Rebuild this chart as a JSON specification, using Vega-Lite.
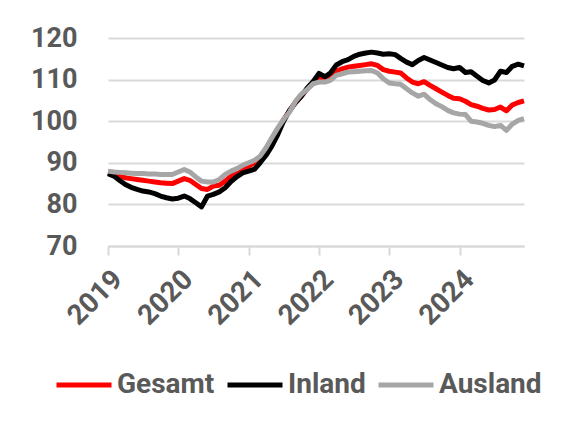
{
  "$schema": "https://vega.github.io/schema/vega-lite/v6.json",
  "width": 416,
  "height": 208,
  "autosize": {"type": "none"},
  "padding": {"left": 108, "top": 38, "right": 47, "bottom": 175},
  "background": "white",
  "config": {
    "view": {"stroke": null},
    "font": "Roboto"
  },
  "data": {
    "values": [
      {"date": "2019-01-01", "Gesamt": 87.6, "Inland": 87.4, "Ausland": 88.0},
      {"date": "2019-02-01", "Gesamt": 87.2, "Inland": 86.8, "Ausland": 87.8},
      {"date": "2019-03-01", "Gesamt": 86.8, "Inland": 85.8, "Ausland": 87.7},
      {"date": "2019-04-01", "Gesamt": 86.4, "Inland": 84.8, "Ausland": 87.6},
      {"date": "2019-05-01", "Gesamt": 86.2, "Inland": 84.1, "Ausland": 87.5},
      {"date": "2019-06-01", "Gesamt": 86.0, "Inland": 83.6, "Ausland": 87.4},
      {"date": "2019-07-01", "Gesamt": 85.8, "Inland": 83.2, "Ausland": 87.4},
      {"date": "2019-08-01", "Gesamt": 85.6, "Inland": 83.0, "Ausland": 87.3},
      {"date": "2019-09-01", "Gesamt": 85.4, "Inland": 82.6, "Ausland": 87.3},
      {"date": "2019-10-01", "Gesamt": 85.2, "Inland": 82.0, "Ausland": 87.2},
      {"date": "2019-11-01", "Gesamt": 85.1, "Inland": 81.6, "Ausland": 87.2},
      {"date": "2019-12-01", "Gesamt": 85.0, "Inland": 81.3, "Ausland": 87.2},
      {"date": "2020-01-01", "Gesamt": 85.6, "Inland": 81.5, "Ausland": 87.8},
      {"date": "2020-02-01", "Gesamt": 86.2, "Inland": 82.0, "Ausland": 88.4},
      {"date": "2020-03-01", "Gesamt": 85.8, "Inland": 81.4, "Ausland": 87.8},
      {"date": "2020-04-01", "Gesamt": 84.8, "Inland": 80.4, "Ausland": 86.6},
      {"date": "2020-05-01", "Gesamt": 83.8, "Inland": 79.4, "Ausland": 85.6},
      {"date": "2020-06-01", "Gesamt": 83.6, "Inland": 82.0, "Ausland": 85.4},
      {"date": "2020-07-01", "Gesamt": 84.4, "Inland": 82.4, "Ausland": 85.4},
      {"date": "2020-08-01", "Gesamt": 84.6, "Inland": 83.0, "Ausland": 86.0},
      {"date": "2020-09-01", "Gesamt": 85.6, "Inland": 84.0, "Ausland": 87.2},
      {"date": "2020-10-01", "Gesamt": 86.8, "Inland": 85.5, "Ausland": 88.0},
      {"date": "2020-11-01", "Gesamt": 87.6, "Inland": 86.7, "Ausland": 88.6},
      {"date": "2020-12-01", "Gesamt": 88.5, "Inland": 87.6, "Ausland": 89.4},
      {"date": "2021-01-01", "Gesamt": 89.2, "Inland": 88.0, "Ausland": 90.0},
      {"date": "2021-02-01", "Gesamt": 90.0, "Inland": 88.5, "Ausland": 90.6},
      {"date": "2021-03-01", "Gesamt": 91.2, "Inland": 90.0, "Ausland": 91.6},
      {"date": "2021-04-01", "Gesamt": 93.0, "Inland": 91.8, "Ausland": 93.6},
      {"date": "2021-05-01", "Gesamt": 95.2, "Inland": 94.0, "Ausland": 96.0},
      {"date": "2021-06-01", "Gesamt": 97.6, "Inland": 96.8, "Ausland": 98.4},
      {"date": "2021-07-01", "Gesamt": 100.4, "Inland": 100.0, "Ausland": 100.4},
      {"date": "2021-08-01", "Gesamt": 102.5, "Inland": 102.6, "Ausland": 102.2},
      {"date": "2021-09-01", "Gesamt": 104.5, "Inland": 104.5, "Ausland": 104.8},
      {"date": "2021-10-01", "Gesamt": 106.0, "Inland": 106.0, "Ausland": 106.5},
      {"date": "2021-11-01", "Gesamt": 107.8, "Inland": 108.0, "Ausland": 107.6},
      {"date": "2021-12-01", "Gesamt": 109.2, "Inland": 109.5, "Ausland": 109.0},
      {"date": "2022-01-01", "Gesamt": 110.2, "Inland": 111.5, "Ausland": 109.4},
      {"date": "2022-02-01", "Gesamt": 110.2, "Inland": 110.7, "Ausland": 109.4},
      {"date": "2022-03-01", "Gesamt": 110.8, "Inland": 111.6, "Ausland": 109.8},
      {"date": "2022-04-01", "Gesamt": 112.0, "Inland": 113.5, "Ausland": 111.0},
      {"date": "2022-05-01", "Gesamt": 112.6, "Inland": 114.3, "Ausland": 111.4},
      {"date": "2022-06-01", "Gesamt": 113.0, "Inland": 114.8, "Ausland": 111.8},
      {"date": "2022-07-01", "Gesamt": 113.2, "Inland": 115.6, "Ausland": 111.9},
      {"date": "2022-08-01", "Gesamt": 113.4, "Inland": 116.1, "Ausland": 112.0},
      {"date": "2022-09-01", "Gesamt": 113.6, "Inland": 116.4, "Ausland": 112.1},
      {"date": "2022-10-01", "Gesamt": 113.8, "Inland": 116.6, "Ausland": 112.2},
      {"date": "2022-11-01", "Gesamt": 113.4, "Inland": 116.4, "Ausland": 111.6},
      {"date": "2022-12-01", "Gesamt": 112.4, "Inland": 116.1, "Ausland": 110.2},
      {"date": "2023-01-01", "Gesamt": 112.0, "Inland": 116.2, "Ausland": 109.2},
      {"date": "2023-02-01", "Gesamt": 111.8, "Inland": 116.0, "Ausland": 109.0},
      {"date": "2023-03-01", "Gesamt": 111.6, "Inland": 115.1, "Ausland": 108.9},
      {"date": "2023-04-01", "Gesamt": 110.4, "Inland": 114.2, "Ausland": 107.8},
      {"date": "2023-05-01", "Gesamt": 109.4, "Inland": 113.6, "Ausland": 106.8},
      {"date": "2023-06-01", "Gesamt": 109.0, "Inland": 114.6, "Ausland": 106.0},
      {"date": "2023-07-01", "Gesamt": 109.5, "Inland": 115.3, "Ausland": 106.5},
      {"date": "2023-08-01", "Gesamt": 108.6, "Inland": 114.7, "Ausland": 105.2},
      {"date": "2023-09-01", "Gesamt": 107.8, "Inland": 114.1, "Ausland": 104.2},
      {"date": "2023-10-01", "Gesamt": 107.0, "Inland": 113.5, "Ausland": 103.5},
      {"date": "2023-11-01", "Gesamt": 106.2, "Inland": 112.9, "Ausland": 102.6},
      {"date": "2023-12-01", "Gesamt": 105.5, "Inland": 112.6, "Ausland": 102.0},
      {"date": "2024-01-01", "Gesamt": 105.4, "Inland": 112.9, "Ausland": 101.7},
      {"date": "2024-02-01", "Gesamt": 104.8, "Inland": 111.7, "Ausland": 101.6},
      {"date": "2024-03-01", "Gesamt": 104.0, "Inland": 111.9, "Ausland": 100.0},
      {"date": "2024-04-01", "Gesamt": 103.6, "Inland": 110.8, "Ausland": 99.8},
      {"date": "2024-05-01", "Gesamt": 103.1, "Inland": 109.8, "Ausland": 99.5},
      {"date": "2024-06-01", "Gesamt": 102.7, "Inland": 109.2, "Ausland": 99.0},
      {"date": "2024-07-01", "Gesamt": 102.8, "Inland": 109.9, "Ausland": 98.7},
      {"date": "2024-08-01", "Gesamt": 103.4, "Inland": 112.0, "Ausland": 99.0},
      {"date": "2024-09-01", "Gesamt": 102.5, "Inland": 111.7, "Ausland": 97.8},
      {"date": "2024-10-01", "Gesamt": 103.9, "Inland": 113.2, "Ausland": 99.3},
      {"date": "2024-11-01", "Gesamt": 104.5, "Inland": 113.7, "Ausland": 100.2},
      {"date": "2024-12-01", "Gesamt": 104.9, "Inland": 113.3, "Ausland": 100.6}
    ]
  },
  "transform": [
    {"fold": ["Gesamt", "Inland", "Ausland"], "as": ["series", "value"]}
  ],
  "mark": {"type": "line", "strokeWidth": 5, "strokeJoin": "round", "strokeCap": "butt"},
  "encoding": {
    "x": {
      "field": "date",
      "type": "temporal",
      "scale": {
        "type": "utc",
        "domain": [
          {"year": 2019, "month": 1, "date": 1, "utc": true},
          {"year": 2024, "month": 12, "date": 1, "utc": true}
        ]
      },
      "axis": {
        "title": null,
        "values": [
          {"year": 2019, "month": 1, "date": 1, "utc": true},
          {"year": 2020, "month": 1, "date": 1, "utc": true},
          {"year": 2021, "month": 1, "date": 1, "utc": true},
          {"year": 2022, "month": 1, "date": 1, "utc": true},
          {"year": 2023, "month": 1, "date": 1, "utc": true},
          {"year": 2024, "month": 1, "date": 1, "utc": true}
        ],
        "format": "%Y",
        "grid": false,
        "domainColor": "#d9d9d9",
        "domainWidth": 2,
        "tickColor": "#d9d9d9",
        "tickWidth": 2,
        "tickSize": 9,
        "labelAngle": -45,
        "labelPadding": 10,
        "labelFontSize": 28,
        "labelFontWeight": "bold",
        "labelColor": "#595959",
        "labelFlush": false,
        "labelOverlap": false
      }
    },
    "y": {
      "field": "value",
      "type": "quantitative",
      "scale": {"domain": [70, 120], "nice": false, "zero": false},
      "axis": {
        "title": null,
        "values": [70, 80, 90, 100, 110, 120],
        "grid": true,
        "gridColor": "#d9d9d9",
        "gridWidth": 2,
        "domain": false,
        "ticks": false,
        "labelPadding": 31,
        "labelFontSize": 27,
        "labelFontWeight": "bold",
        "labelColor": "#595959"
      }
    },
    "color": {
      "field": "series",
      "type": "nominal",
      "scale": {
        "domain": ["Gesamt", "Inland", "Ausland"],
        "range": ["#ff0000", "#000000", "#a6a6a6"]
      },
      "legend": {
        "title": null,
        "orient": "none",
        "direction": "horizontal",
        "legendX": -54,
        "legendY": 317,
        "symbolType": "stroke",
        "symbolSize": 3025,
        "symbolStrokeWidth": 5,
        "labelFontSize": 28,
        "labelFontWeight": "bold",
        "labelColor": "#595959",
        "labelOffset": 3,
        "columnPadding": 2,
        "labelLimit": 300
      }
    }
  }
}
